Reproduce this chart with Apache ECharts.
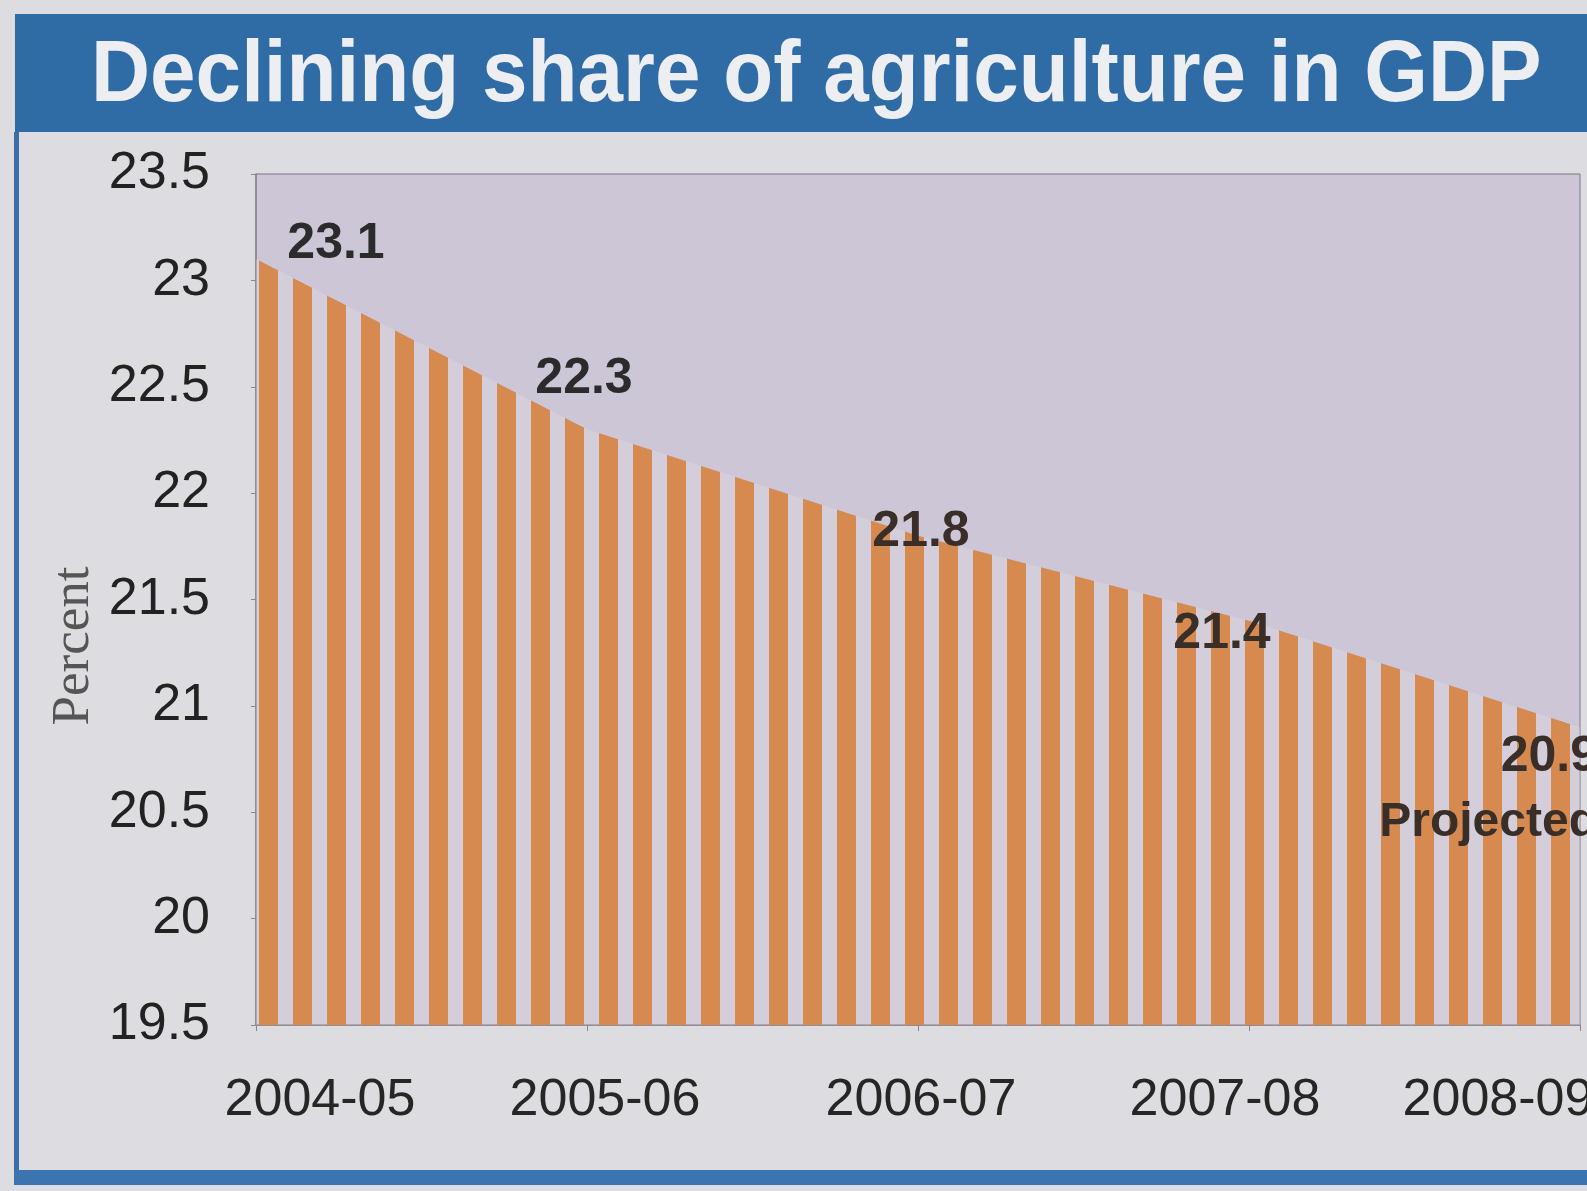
<!DOCTYPE html>
<html><head><meta charset="utf-8">
<script src="https://cdn.jsdelivr.net/npm/echarts@6/dist/echarts.min.js"></script>
<style>html,body{margin:0;padding:0;background:#dddce0;}#chart{width:1587px;height:1191px;}</style>
</head><body><div id="chart"></div>
<script>
// ---- data ----
const categories = ['2004-05', '2005-06', '2006-07', '2007-08', '2008-09'];
const shareValues = [23.1, 22.3, 21.8, 21.4, 20.9];
const valueNotes = ['', '', '', '', 'Projected'];
const yAxisMin = 19.5, yAxisMax = 23.5, yAxisStep = 0.5;
const titleText = 'Declining share of agriculture in GDP';
const yAxisTitle = 'Percent';

// ---- styling ----
const SANS = '"Liberation Sans Narrow", "Arial Narrow", "Liberation Sans", Arial, sans-serif';

function stripeTile() {
  const c = document.createElement('canvas');
  c.width = 34; c.height = 8;
  const g = c.getContext('2d');
  g.fillStyle = 'rgba(226,222,230,0.35)';
  g.fillRect(0, 0, 34, 8);
  g.fillStyle = '#d68a50';
  g.fillRect(21, 0, 13, 8);
  g.fillRect(0, 0, 6, 8);
  return c;
}

function buildOption() {
  const labelOffsets = [[80, -15], [-3, -50], [3, -3], [-27, 13], [18, 63]];
  const labelColors = ['#2b2b2b', '#2b2b2b', '#3a2e28', '#3a2e28', '#3a2e28'];
  const items = shareValues.map((v, i) => {
    const note = valueNotes[i];
    return {
      value: v,
      label: {
        offset: labelOffsets[i],
        align: note ? 'right' : 'center',
        color: labelColors[i],
        formatter: note ? '{v|' + v.toFixed(1) + '}\n{p|' + note + '}' : v.toFixed(1),
        rich: {
          v: { fontFamily: SANS, fontSize: 50, fontWeight: 'bold', color: labelColors[i], lineHeight: 66, align: 'right' },
          p: { fontFamily: SANS, fontSize: 48, fontWeight: 'bold', color: labelColors[i], lineHeight: 66, align: 'right' }
        }
      }
    };
  });
  const xShift = [64, 18, 3, -24, -82];
  const xRich = {};
  xShift.forEach((s, i) => {
    xRich['s' + i] = {
      fontFamily: SANS, fontSize: 52, color: '#262626',
      padding: s >= 0 ? [0, 0, 0, 2 * s] : [0, -2 * s, 0, 0]
    };
  });
  return {
    animation: false,
    backgroundColor: '#dddce0',
    graphic: [
      { type: 'rect', z: 0, shape: { x: 15, y: 14, width: 1572, height: 118 }, style: { fill: '#2f6ca6' } },
      { type: 'rect', z: 0, shape: { x: 14, y: 132, width: 5, height: 1040 }, style: { fill: '#3a6ea6' } },
      { type: 'rect', z: 0, shape: { x: 14, y: 1170, width: 1573, height: 15 }, style: { fill: '#3c74b0' } },
      { type: 'text', z: 10, x: 91, y: 33, scaleX: 0.93,
        style: { text: titleText, align: 'left', verticalAlign: 'top',
                 font: 'bold 88px ' + SANS, fill: '#eceef2' } },
      { type: 'text', z: 5, x: 74, y: 646, rotation: Math.PI / 2,
        style: { text: yAxisTitle, align: 'center', verticalAlign: 'middle',
                 font: '53px "Liberation Serif", serif', fill: '#555' } }
    ],
    grid: {
      left: 256, right: 7, top: 174, bottom: 166,
      outerBoundsMode: 'none', containLabel: false,
      show: true, backgroundColor: '#cdc6d6', borderColor: '#7d7785', borderWidth: 1
    },
    xAxis: {
      type: 'category', data: categories, boundaryGap: false,
      axisLine: { lineStyle: { color: '#8a8590', width: 1.5 } },
      axisTick: { show: true, length: 6, lineStyle: { color: '#8a8590' } },
      axisLabel: {
        interval: 0, margin: 50,
        formatter: (v, i) => '{s' + i + '|' + v + '}',
        rich: xRich
      },
      splitLine: { show: false }
    },
    yAxis: {
      type: 'value', min: yAxisMin, max: yAxisMax, interval: yAxisStep,
      axisLine: { show: true, lineStyle: { color: '#8a8590', width: 1.5 } },
      axisTick: { show: true, length: 5, lineStyle: { color: '#8a8590' } },
      axisLabel: { margin: 46, fontFamily: SANS, fontSize: 52, color: '#222' },
      splitLine: { show: false }
    },
    series: [{
      type: 'line', data: items,
      symbol: 'circle', symbolSize: 1,
      itemStyle: { color: 'rgba(0,0,0,0)' },
      lineStyle: { width: 0, opacity: 0 },
      areaStyle: { origin: 'start', color: { image: stripeTile(), repeat: 'repeat' }, opacity: 1 },
      label: {
        show: true, position: 'inside', verticalAlign: 'middle',
        fontFamily: SANS, fontSize: 50, fontWeight: 'bold'
      },
      z: 2
    }]
  };
}

const chart = echarts.init(document.getElementById('chart'));
chart.setOption(buildOption());
</script>
</body></html>
